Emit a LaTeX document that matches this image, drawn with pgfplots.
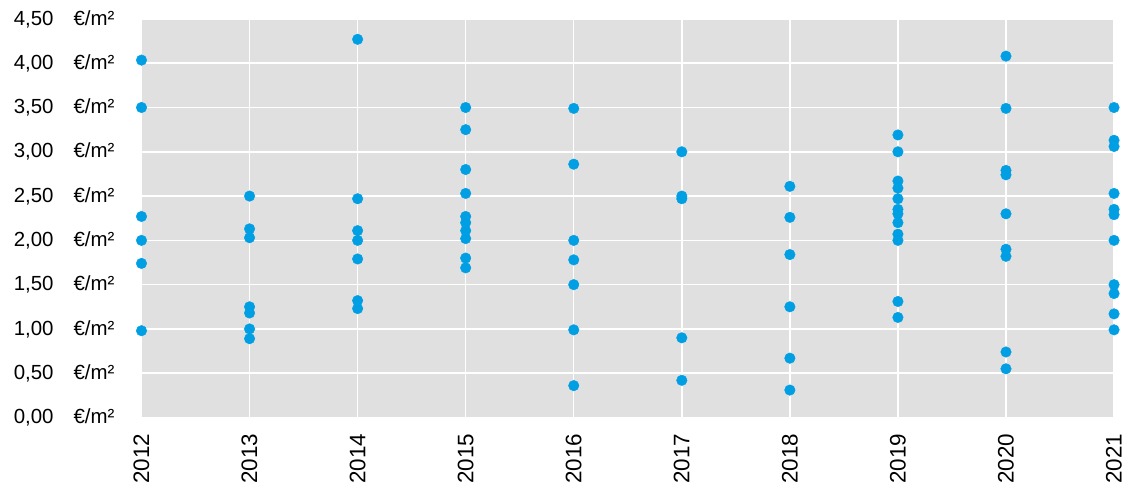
\documentclass[border=0pt]{standalone}
\usepackage{fontspec}
\setmainfont{Liberation Sans}
\usepackage{pgfplots}
\pgfplotsset{compat=1.18}
\usepackage{pgfplotstable}
\definecolor{bg}{HTML}{E0E0E0}
\definecolor{dot}{HTML}{009FE3}
\pgfplotstableread{
x y
2012 4.035
2012 3.50
2012 2.27
2012 2.00
2012 1.74
2012 0.98
2013 2.50
2013 2.13
2013 2.03
2013 1.25
2013 1.18
2013 1.00
2013 0.89
2014 4.27
2014 2.47
2014 2.11
2014 2.00
2014 1.79
2014 1.32
2014 1.23
2015 3.50
2015 3.25
2015 2.80
2015 2.53
2015 2.27
2015 2.20
2015 2.11
2015 2.02
2015 1.80
2015 1.69
2016 3.49
2016 2.86
2016 2.00
2016 1.78
2016 1.50
2016 0.99
2016 0.36
2017 3.00
2017 2.50
2017 2.47
2017 0.90
2017 0.42
2018 2.61
2018 2.26
2018 1.84
2018 1.25
2018 0.67
2018 0.31
2019 3.19
2019 3.00
2019 2.67
2019 2.59
2019 2.47
2019 2.35
2019 2.30
2019 2.20
2019 2.07
2019 2.00
2019 1.31
2019 1.13
2020 4.08
2020 3.49
2020 2.79
2020 2.74
2020 2.30
2020 1.90
2020 1.82
2020 0.74
2020 0.55
2021 3.50
2021 3.13
2021 3.06
2021 2.53
2021 2.35
2021 2.29
2021 2.00
2021 1.50
2021 1.40
2021 1.17
2021 0.99
}\data
\newcommand{\eur}[1]{#1\hspace{20pt}€/m²}
\begin{document}
\begin{tikzpicture}
\useasboundingbox (-142pt,-72pt) rectangle (990pt,419pt);
\begin{axis}[
  at={(0pt,0pt)}, anchor=origin,
  scale only axis,
  width=976pt, height=400pt,
  xmin=2012, xmax=2021,
  ymin=0, ymax=4.5,
  clip=false,
  axis line style={draw=none},
  major tick length=0pt,
  axis background/.style={fill=bg},
  grid=major,
  major grid style={white, line width=1.6pt},
  xtick={2012,...,2021},
  xticklabels={2012,2013,2014,2015,2016,2017,2018,2019,2020,2021},
  ytick={0,0.5,1,1.5,2,2.5,3,3.5,4,4.5},
  yticklabels={{\eur{0,00}},{\eur{0,50}},{\eur{1,00}},{\eur{1,50}},{\eur{2,00}},{\eur{2,50}},{\eur{3,00}},{\eur{3,50}},{\eur{4,00}},{\eur{4,50}}},
  yticklabel style={font=\fontsize{20.5pt}{24pt}\selectfont, text=black, anchor=east, inner sep=0pt, xshift=-27pt},
  xticklabel style={font=\fontsize{22.5pt}{26pt}\selectfont, text=black, yshift=-16pt, rotate=90, anchor=east, inner sep=0pt},
]
\addplot[only marks, mark=*, color=dot, mark size=5.3pt] table[x=x, y=y] {\data};
\end{axis}
\end{tikzpicture}
\end{document}
